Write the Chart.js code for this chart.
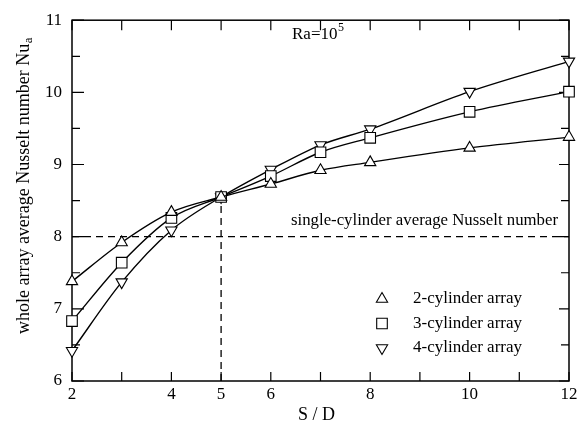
<!DOCTYPE html>
<html>
<head>
<meta charset="utf-8">
<script src="https://cdn.jsdelivr.net/npm/chart.js@4/dist/chart.umd.min.js"></script>
<style>
html,body{margin:0;padding:0;background:#fff;}
#wrap{position:relative;width:581px;height:430px;}
</style>
</head>
<body>
<div id="wrap"><canvas id="c" width="581" height="430"></canvas></div>
<script>
// ---- data ----
const sdValues = [2, 3, 4, 5, 6, 7, 8, 10, 12];
const nuTwo   = [7.38, 7.92, 8.34, 8.55, 8.73, 8.92, 9.03, 9.23, 9.38];
const nuThree = [6.83, 7.64, 8.26, 8.55, 8.84, 9.17, 9.37, 9.73, 10.01];
const nuFour  = [6.42, 7.37, 8.09, 8.55, 8.93, 9.27, 9.49, 10.01, 10.43];
const seriesNames = ['2-cylinder array', '3-cylinder array', '4-cylinder array'];
const singleNu = 8;
const crossSD = 5;
const crossNu = 8.55;
const xTickLabels = [2, 4, 5, 6, 8, 10, 12];
const xMinorTicks = [2, 3, 4, 5, 6, 7, 8, 9, 10, 11, 12];
const yTickLabels = [6, 7, 8, 9, 10, 11];
const yMinorTicks = [6.5, 7.5, 8.5, 9.5, 10.5];

const FONT = "'Liberation Serif', 'DejaVu Serif', serif";

function pts(ys){ return sdValues.map((x,i)=>({x:x, y:ys[i]})); }

const styles = [
  {pointStyle:'triangle', rotation:0, radius:6.5},
  {pointStyle:'rect', rotation:0, radius:7.5},
  {pointStyle:'triangle', rotation:180, radius:6.5}
];

const datasets = [nuTwo, nuThree, nuFour].map((ys,i)=>({
  label: seriesNames[i],
  data: pts(ys),
  borderColor:'#000',
  borderWidth:1.4,
  backgroundColor:'#fff',
  pointStyle: styles[i].pointStyle,
  pointRotation: styles[i].rotation,
  pointRadius: styles[i].radius,
  pointBackgroundColor:'#fff',
  pointBorderColor:'#000',
  pointBorderWidth:1.1,
  cubicInterpolationMode:'monotone',
  fill:false,
  clip:false,
  order: 1
}));

datasets.push({
  label:'single',
  data:[{x:2,y:singleNu},{x:12,y:singleNu}],
  borderColor:'#000', borderWidth:1.3, borderDash:[7,5],
  pointRadius:0, fill:false, order:5
});
datasets.push({
  label:'cross',
  data:[{x:crossSD,y:6},{x:crossSD,y:crossNu}],
  borderColor:'#000', borderWidth:1.3, borderDash:[7,5],
  pointRadius:0, fill:false, order:5
});

function drawMarker(ctx, style, r, x, y, down){
  ctx.save();
  ctx.beginPath();
  if(style==='rect'){
    const s = Math.SQRT1_2*r;
    ctx.rect(x-s, y-s, 2*s, 2*s);
  } else {
    let rad = down ? Math.PI : 0;
    ctx.moveTo(x+Math.sin(rad)*r, y-Math.cos(rad)*r);
    rad += 2*Math.PI/3;
    ctx.lineTo(x+Math.sin(rad)*r, y-Math.cos(rad)*r);
    rad += 2*Math.PI/3;
    ctx.lineTo(x+Math.sin(rad)*r, y-Math.cos(rad)*r);
    ctx.closePath();
  }
  ctx.fillStyle='#fff'; ctx.fill();
  ctx.lineWidth=1.1; ctx.strokeStyle='#000'; ctx.stroke();
  ctx.restore();
}

const decor = {
  id:'decor',
  beforeDatasetsDraw(chart){
    const ctx = chart.ctx, a = chart.chartArea;
    const xs = chart.scales.x, ys = chart.scales.y;
    ctx.save();
    ctx.strokeStyle='#000'; ctx.lineWidth=1.5;
    ctx.strokeRect(a.left, a.top, a.right-a.left, a.bottom-a.top);
    ctx.lineWidth=1.2;
    ctx.beginPath();
    xMinorTicks.forEach(v=>{
      const px = xs.getPixelForValue(v);
      ctx.moveTo(px, a.bottom); ctx.lineTo(px, a.bottom-9);
      ctx.moveTo(px, a.top); ctx.lineTo(px, a.top+10);
    });
    yTickLabels.forEach(v=>{
      const py = ys.getPixelForValue(v);
      ctx.moveTo(a.left, py); ctx.lineTo(a.left+12, py);
      ctx.moveTo(a.right, py); ctx.lineTo(a.right-10, py);
    });
    yMinorTicks.forEach(v=>{
      const py = ys.getPixelForValue(v);
      ctx.moveTo(a.left, py); ctx.lineTo(a.left+8, py);
      ctx.moveTo(a.right, py); ctx.lineTo(a.right-8, py);
    });
    ctx.stroke();
    ctx.restore();
  },
  afterDraw(chart){
    const ctx = chart.ctx, a = chart.chartArea;
    ctx.save();
    ctx.fillStyle='#000';
    // Ra label
    ctx.font = '17px ' + FONT;
    ctx.textBaseline='middle'; ctx.textAlign='left';
    ctx.fillText('Ra=10', 292, 35);
    const w = ctx.measureText('Ra=10').width;
    ctx.font = '12px ' + FONT;
    ctx.fillText('5', 292+w+0.5, 28);

    // single-cylinder label
    ctx.font = '16.8px ' + FONT;
    ctx.textAlign='right';
    ctx.fillText('single-cylinder average Nusselt number', 558, 221);

    // legend
    const rows = [299, 323.5, 348];
    ctx.font = '17px ' + FONT;
    ctx.textAlign='left';
    rows.forEach((ry,i)=>{
      drawMarker(ctx, styles[i].pointStyle, styles[i].radius, 382, ry, styles[i].rotation===180);
      ctx.fillStyle='#000';
      ctx.fillText(seriesNames[i], 413, ry);
    });

    // x title
    ctx.font = '18px ' + FONT;
    ctx.textAlign='center';
    ctx.fillText('S / D', (a.left+a.right)/2 - 4, 415);

    // y title with subscript
    ctx.save();
    ctx.translate(24, 186);
    ctx.rotate(-Math.PI/2);
    ctx.font = '18px ' + FONT;
    const main = 'whole array average Nusselt number Nu';
    const mw = ctx.measureText(main).width;
    ctx.font = '13px ' + FONT;
    const sw = ctx.measureText('a').width;
    const total = mw + sw;
    ctx.font = '18px ' + FONT;
    ctx.textAlign='left'; ctx.textBaseline='middle';
    ctx.fillText(main, -total/2, 0);
    ctx.font = '13px ' + FONT;
    ctx.fillText('a', -total/2 + mw + 0.5, 5);
    ctx.restore();

    ctx.restore();
  }
};

new Chart(document.getElementById('c'), {
  type:'line',
  data:{ datasets },
  options:{
    responsive:false,
    animation:false,
    layout:{ padding:{ top:9, right:12, left:0, bottom:0 } },
    plugins:{ legend:{display:false}, tooltip:{enabled:false} },
    scales:{
      x:{
        type:'linear', min:2, max:12,
        afterBuildTicks(s){ s.ticks = xTickLabels.map(v=>({value:v})); },
        afterFit(s){ s.height = 49; },
        grid:{display:false, drawTicks:false},
        border:{display:false},
        ticks:{ color:'#000', font:{family:FONT, size:17}, padding:3, maxRotation:0, autoSkip:false }
      },
      y:{
        type:'linear', min:6, max:11,
        afterBuildTicks(s){ s.ticks = yTickLabels.map(v=>({value:v})); },
        afterFit(s){ s.width = 72; },
        grid:{display:false, drawTicks:false},
        border:{display:false},
        ticks:{ color:'#000', font:{family:FONT, size:17}, padding:10 }
      }
    }
  },
  plugins:[decor]
});
</script>
</body>
</html>
